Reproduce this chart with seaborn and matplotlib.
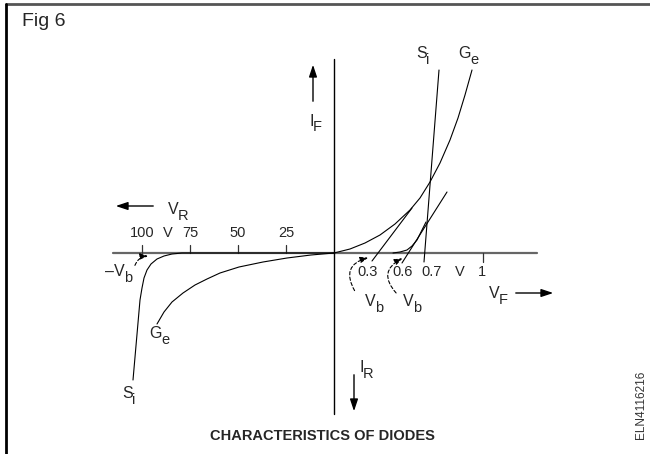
import matplotlib
matplotlib.use("Agg")
import matplotlib.pyplot as plt
import seaborn as sns

# ── Diagram data (drawing units: 650 x 454 grid, y grows downward) ──
AXIS_X0, AXIS_Y0 = 334, 253          # origin of the V / I axes

# reverse-bias scale: 25 V per 48 units
rev_volts  = [100, 75, 50, 25]
rev_labels = ["100", "75", "50", "25"]

# forward-bias labels (schematic, not to scale)
fwd_labels = ["0.3", "0.6", "0.7", "V", "1"]
fwd_label_x = [368, 403, 432, 460, 482]

# forward characteristic, germanium
ge_fwd_x = [334, 350, 365, 380, 395, 410, 420, 430, 440, 450, 458, 465, 472]
ge_fwd_y = [253, 249, 243, 235, 224, 210, 198, 182, 163, 140, 118, 95, 70]
# forward characteristic, silicon (knee + steep part)
si_knee_x = [393, 400, 407, 412, 417, 421, 426]
si_knee_y = [253, 252, 250, 246, 240, 232, 222]
si_steep_x = [424, 439]
si_steep_y = [262, 70]
# tangent lines giving the barrier voltages
ge_tan_x, ge_tan_y = [372, 412], [261, 208]
si_tan_x, si_tan_y = [402, 447], [263, 192]

# reverse characteristic, germanium
ge_rev_x = [334, 311, 287, 263, 239, 220, 207, 195, 183, 172, 164, 157]
ge_rev_y = [253, 255, 258, 262, 267, 273, 279, 285, 293, 302, 312, 324]
# reverse characteristic, silicon (breakdown)
si_rev_x = [334, 250, 200, 182, 172, 164, 157, 151, 147, 144, 142, 140, 133]
si_rev_y = [253, 253, 253, 253, 254, 256, 259, 264, 270, 278, 288, 300, 380]

# ── Style ──
sns.set_theme(style="white")
plt.rcParams["font.family"] = ["Liberation Sans", "DejaVu Sans"]

fig = plt.figure(figsize=(6.5, 4.54), dpi=100)
ax = fig.add_axes([0, 0, 1, 1])
ax.set_xlim(0, 650)
ax.set_ylim(454, 0)
ax.axis("off")

def curve(xs, ys, lw=0.8, color="black"):
    sns.lineplot(x=xs, y=ys, sort=False, estimator=None, color=color,
                 lw=lw, ax=ax, legend=False)

def sub_label(x, y, main, sub, size=11.5):
    # main letter ends at x, subscript starts there and sits lower
    ax.text(x + 1, y, main, ha="right", va="center", fontsize=size)
    ax.text(x, y + 6, sub, ha="left", va="center", fontsize=size - 1)

# frame (top + left only)
curve([6, 650], [4, 4], lw=2.0, color="#555555")
curve([6, 6], [4, 454], lw=2.0, color="black")

# axes
curve([113, 537], [AXIS_Y0, AXIS_Y0], lw=1.6, color="#666666")
curve([AXIS_X0, AXIS_X0], [59, 414], lw=1.0, color="black")

# reverse ticks + labels
for v, lab in zip(rev_volts, rev_labels):
    x = AXIS_X0 - v * 48 / 25
    curve([x, x], [245, AXIS_Y0], lw=0.9, color="#333333")
    ax.text(x, 233, lab, ha="center", va="center", fontsize=10.5)
ax.text(168, 233, "V", ha="center", va="center", fontsize=10.5)

# forward tick at 1 V
curve([483, 483], [AXIS_Y0, 262], lw=0.9, color="#333333")
for x, lab in zip(fwd_label_x, fwd_labels):
    ax.text(x, 272, lab, ha="center", va="center", fontsize=10.5)

# characteristics
curve(ge_fwd_x, ge_fwd_y)
curve(si_knee_x, si_knee_y)
curve(si_steep_x, si_steep_y)
curve(ge_tan_x, ge_tan_y)
curve(si_tan_x, si_tan_y)
curve(ge_rev_x, ge_rev_y)
curve(si_rev_x, si_rev_y)

# axis direction arrows
arrow = dict(arrowstyle="-|>,head_length=0.6,head_width=0.2", color="black", lw=1.0)
ax.annotate("", xy=(113, 206), xytext=(156, 206), arrowprops=arrow)
ax.annotate("", xy=(556, 293), xytext=(513, 293), arrowprops=arrow)
ax.annotate("", xy=(313, 62), xytext=(313, 104), arrowprops=arrow)
ax.annotate("", xy=(354, 414), xytext=(354, 372), arrowprops=arrow)

# dashed arcs pointing to the barrier voltages
dash = dict(arrowstyle="-|>,head_length=0.4,head_width=0.15", color="black",
            lw=0.8, linestyle=(0, (3, 2)))
ax.annotate("", xy=(371, 257), xytext=(356, 293),
            arrowprops=dict(dash, connectionstyle="arc3,rad=-0.7"))
ax.annotate("", xy=(405, 257), xytext=(398, 295),
            arrowprops=dict(dash, connectionstyle="arc3,rad=-0.7"))
ax.annotate("", xy=(151, 256), xytext=(134, 268),
            arrowprops=dict(dash, connectionstyle="arc3,rad=-0.4"))

# labels
sub_label(178, 210, "V", "R")
sub_label(499, 294, "V", "F")
sub_label(313, 121, "I", "F")
sub_label(363, 368, "I", "R")
sub_label(375, 302, "V", "b")
sub_label(413, 302, "V", "b")
sub_label(124, 272, "\u2013V", "b")
sub_label(426, 54, "S", "i")
sub_label(470, 54, "G", "e")
sub_label(161, 334, "G", "e")
sub_label(132, 394, "S", "i")

ax.text(22, 22, "Fig 6", ha="left", va="center", fontsize=14)
ax.text(322, 436, "CHARACTERISTICS OF DIODES", ha="center", va="center",
        fontsize=10.5, fontweight="bold")
ax.text(641, 405, "ELN4116216", ha="center", va="center", rotation=90,
        fontsize=8.5, color="#333333")

fig.savefig("out.png", dpi=100)
